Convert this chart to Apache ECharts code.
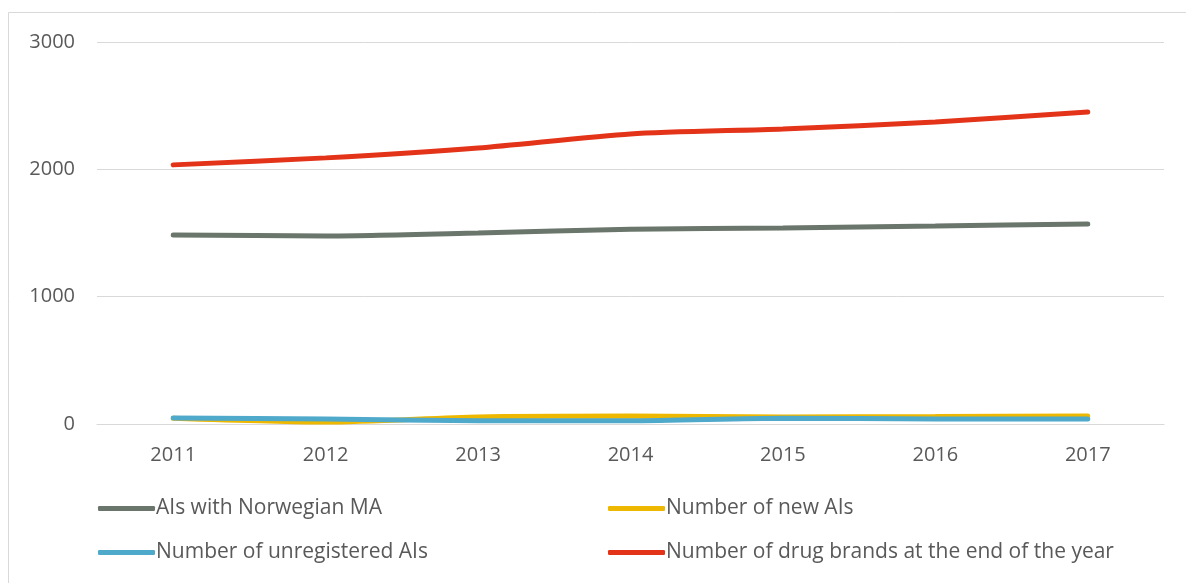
<!DOCTYPE html>
<html><head><meta charset="utf-8">
<script src="https://cdn.jsdelivr.net/npm/echarts@6/dist/echarts.min.js"></script>
<style>html,body{margin:0;padding:0;background:#fff}#c{width:1186px;height:583px}</style>
</head><body><div id="c"></div>
<script>
const categories = ['2011','2012','2013','2014','2015','2016','2017'];
const aisNorwegianMA = [1485, 1477, 1500, 1530, 1540, 1555, 1571];
const newAIs = [45, 15, 55, 62, 55, 58, 63];
const unregisteredAIs = [48, 40, 25, 25, 45, 40, 40];
const drugBrands = [2035, 2090, 2168, 2278, 2317, 2372, 2451];
const seriesNames = ['AIs with Norwegian MA', 'Number of new AIs', 'Number of unregistered AIs', 'Number of drug brands at the end of the year'];
const colors = ['#6A756B', '#EEB700', '#4FA9CB', '#E3341A'];
const values = [aisNorwegianMA, newAIs, unregisteredAIs, drugBrands];

const font = 'Open Sans';
const legendPos = [[98, 498], [608, 498], [98, 542], [608, 542]];
const chart = echarts.init(document.getElementById('c'), null, {renderer: 'canvas'});
chart.setOption({
  animation: false,
  backgroundColor: '#fff',
  graphic: [{type: 'rect', shape: {x: 8.5, y: 12.5, width: 1300, height: 700}, style: {fill: 'none', stroke: '#d9d9d9', lineWidth: 1}, silent: true}],
  grid: {left: 97, right: 22, top: 42, bottom: 159},
  xAxis: {
    type: 'category', data: categories, boundaryGap: true,
    axisLine: {lineStyle: {color: '#d9d9d9', width: 1}},
    axisTick: {show: false},
    axisLabel: {color: '#595959', fontFamily: font, fontSize: 20, margin: 21}
  },
  yAxis: {
    type: 'value', min: 0, max: 3000, interval: 1000,
    axisLine: {show: false}, axisTick: {show: false},
    splitLine: {lineStyle: {color: '#d9d9d9', width: 1}},
    axisLabel: {color: '#595959', fontFamily: font, fontSize: 20, margin: 22, formatter: v => String(v)}
  },
  legend: seriesNames.map((n, i) => ({
    data: [n], left: legendPos[i][0], top: legendPos[i][1], padding: 0,
    icon: 'roundRect', itemWidth: 57, itemHeight: 5, itemGap: 0,
    textStyle: {color: '#595959', fontFamily: font, fontSize: 21, padding: [0, 0, 0, -4]},
    selectedMode: false
  })),
  series: seriesNames.map((n, i) => ({
    name: n, type: 'line', data: values[i], smooth: 0.25,
    showSymbol: false, symbol: 'none',
    lineStyle: {color: colors[i], width: 5, cap: 'round'},
    itemStyle: {color: colors[i]}
  }))
});
</script></body></html>
